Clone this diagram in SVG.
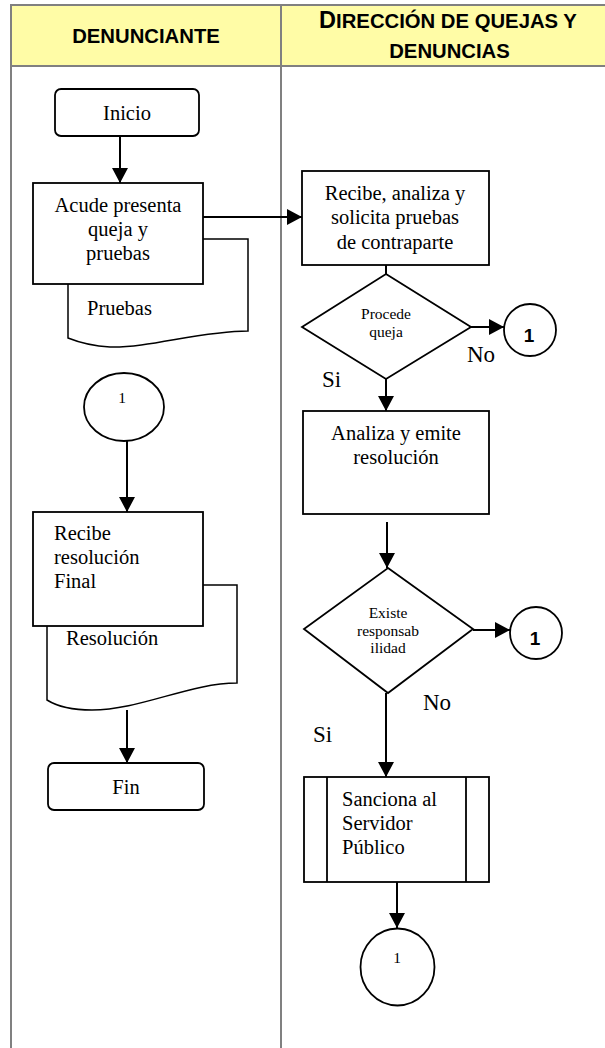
<svg xmlns="http://www.w3.org/2000/svg" width="605" height="1048" viewBox="0 0 605 1048">
<style>
.lane{stroke:#808080;stroke-width:2;fill:none}
.hdr{font-family:"Liberation Sans",Arial,sans-serif;font-weight:bold;fill:#000}
.shape{fill:#fff;stroke:#000;stroke-width:1.8}
.doc{fill:#fff;stroke:#000;stroke-width:1.5}
.t{font-family:"Liberation Serif","Times New Roman",serif;font-size:20.5px;fill:#000}
.ts{font-family:"Liberation Serif","Times New Roman",serif;font-size:15.5px;fill:#000}
.tl{font-family:"Liberation Serif","Times New Roman",serif;font-size:23px;fill:#000}
.c{text-anchor:middle}
.b1{font-family:"Liberation Sans",Arial,sans-serif;font-weight:bold;font-size:19px;fill:#000;text-anchor:middle}
.conn line{stroke:#000;stroke-width:2}
</style>
<defs>
<marker id="arr" markerUnits="userSpaceOnUse" markerWidth="16" markerHeight="16" refX="15" refY="8" orient="auto">
<path d="M0,0 L15,8 L0,16 Z" fill="#000"/>
</marker>
</defs>
<rect width="605" height="1048" fill="#fff"/>
<g id="header">
<rect x="11" y="5" width="596" height="61" fill="#FFFCA6"/>
<line class="lane" x1="11" y1="5" x2="607" y2="5"/>
<line class="lane" x1="11" y1="66" x2="607" y2="66"/>
<line class="lane" x1="11" y1="4" x2="11" y2="1048"/>
<line class="lane" x1="281" y1="4" x2="281" y2="1048"/>
<text class="hdr c" x="146" y="43" font-size="20.3">DENUNCIANTE</text>
<text class="hdr c" x="448" y="28" font-size="20.3"><tspan font-size="23.5">D</tspan>IRECCIÓN DE QUEJAS Y</text>
<text class="hdr c" x="449.5" y="58" font-size="20.3">DENUNCIAS</text>
</g>
<g id="inicio">
<rect class="shape" x="55" y="89" width="144" height="47" rx="6"/>
<text class="t c" x="127" y="120">Inicio</text>
</g>
<g id="pruebas">
<path class="doc" d="M68,239 H248 V331 C200,331 150,348 110,347 C92,346 78,342 68,338 Z"/>
<text class="t" x="87" y="315">Pruebas</text>
</g>
<g id="acude">
<rect class="shape" x="33" y="183" width="170" height="101"/>
<text class="t c" x="118" y="212">Acude presenta</text>
<text class="t c" x="118" y="236">queja y</text>
<text class="t c" x="118" y="260">pruebas</text>
</g>
<g id="recibe-analiza">
<rect class="shape" x="302" y="171" width="187" height="94"/>
<text class="t c" x="395" y="199.5">Recibe, analiza y</text>
<text class="t c" x="395" y="224">solicita pruebas</text>
<text class="t c" x="395" y="248.5">de contraparte</text>
</g>
<g id="procede">
<polygon class="shape" points="386,274 471,327 386,379 302,327"/>
<text class="ts c" x="386" y="319">Procede</text>
<text class="ts c" x="386" y="336.5">queja</text>
</g>
<g id="con-a">
<circle class="shape" cx="530" cy="330" r="26"/>
<text class="b1" x="529" y="342">1</text>
</g>
<g id="label-no1"><text class="tl" x="467" y="362">No</text></g>
<g id="label-si1"><text class="tl" x="322" y="387">Si</text></g>
<g id="analiza">
<rect class="shape" x="303" y="411" width="186" height="103"/>
<text class="t c" x="396" y="440">Analiza y emite</text>
<text class="t c" x="396" y="464">resolución</text>
</g>
<g id="existe">
<polygon class="shape" points="388,568 473,629 388,693 304,629"/>
<text class="ts c" x="388" y="618">Existe</text>
<text class="ts c" x="388" y="635.5">responsab</text>
<text class="ts c" x="388" y="653">ilidad</text>
</g>
<g id="con-b">
<circle class="shape" cx="536" cy="633" r="26"/>
<text class="b1" x="535" y="645">1</text>
</g>
<g id="label-no2"><text class="tl" x="423" y="710">No</text></g>
<g id="label-si2"><text class="tl" x="313" y="742">Si</text></g>
<g id="sanciona">
<rect class="shape" x="304" y="777" width="185" height="105"/>
<line x1="327" y1="777" x2="327" y2="882" stroke="#000" stroke-width="1.8"/>
<line x1="466" y1="777" x2="466" y2="882" stroke="#000" stroke-width="1.8"/>
<text class="t" x="342" y="806">Sanciona al</text>
<text class="t" x="342" y="830">Servidor</text>
<text class="t" x="342" y="854">Público</text>
</g>
<g id="con-c">
<ellipse class="shape" cx="397.5" cy="967" rx="37" ry="38.5"/>
<text class="ts c" x="397" y="963">1</text>
</g>
<g id="con-d">
<ellipse class="shape" cx="124" cy="407" rx="40" ry="34"/>
<text class="ts c" x="122" y="403">1</text>
</g>
<g id="resolucion">
<path class="doc" d="M47,585 H237 V683 C190,683 140,710 92,710 C70,710 55,705 47,700 Z"/>
<text class="t" x="66" y="645">Resolución</text>
</g>
<g id="recibe-resolucion">
<rect class="shape" x="33" y="512" width="170" height="114"/>
<text class="t" x="54" y="540">Recibe</text>
<text class="t" x="54" y="564">resolución</text>
<text class="t" x="54" y="588">Final</text>
</g>
<g id="fin">
<rect class="shape" x="48" y="763" width="156" height="47" rx="6"/>
<text class="t c" x="126" y="794">Fin</text>
</g>
<g id="connectors" class="conn">
<line x1="120" y1="136" x2="120" y2="183" marker-end="url(#arr)"/>
<line x1="203" y1="217" x2="302" y2="217" marker-end="url(#arr)"/>
<line x1="386" y1="265" x2="386" y2="274"/>
<line x1="471" y1="327" x2="504" y2="327" marker-end="url(#arr)"/>
<line x1="386" y1="379" x2="386" y2="411" marker-end="url(#arr)"/>
<line x1="387" y1="522" x2="387" y2="568" marker-end="url(#arr)"/>
<line x1="473" y1="630" x2="510" y2="630" marker-end="url(#arr)"/>
<line x1="386" y1="693" x2="386" y2="777" marker-end="url(#arr)"/>
<line x1="397" y1="882" x2="397" y2="928" marker-end="url(#arr)"/>
<line x1="127" y1="441" x2="127" y2="512" marker-end="url(#arr)"/>
<line x1="127" y1="710" x2="127" y2="763" marker-end="url(#arr)"/>
</g>
</svg>
